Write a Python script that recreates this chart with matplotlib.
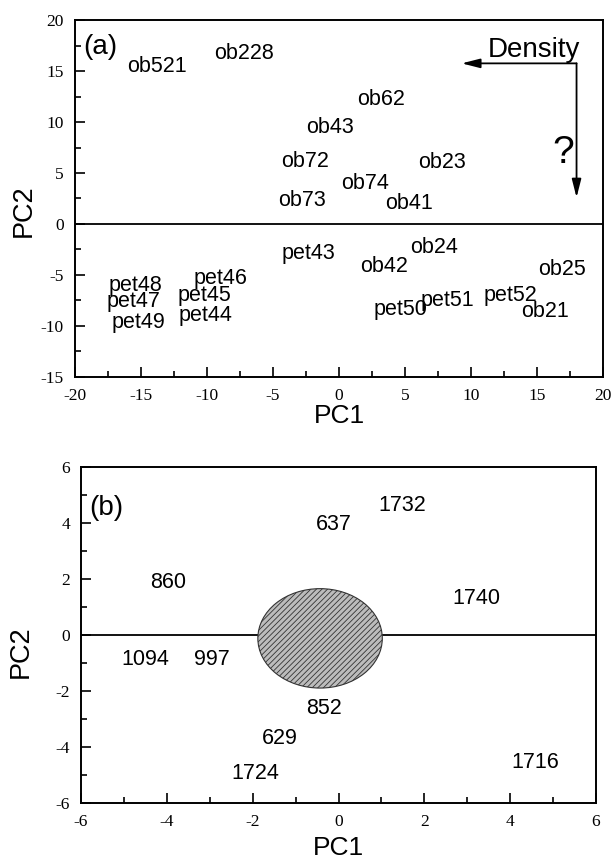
import matplotlib
matplotlib.use("Agg")
import matplotlib.pyplot as plt
from matplotlib.patches import Ellipse
from matplotlib.ticker import MultipleLocator

# ---- panel (a): sample scores on PC1 / PC2 ----
a_names = ["ob521", "ob228", "ob62", "ob43", "ob72", "ob23", "ob74", "ob73",
           "ob41", "pet43", "ob24", "ob42", "ob25", "pet48", "pet46", "pet47",
           "pet45", "pet49", "pet44", "pet50", "pet51", "pet52", "ob21"]
a_pc1 = [-13.8, -7.2, 3.2, -0.7, -2.6, 7.8, 2.0, -2.8,
         5.3, -2.3, 7.2, 3.4, 16.9, -15.4, -9.0, -15.6,
         -10.2, -15.2, -10.1, 4.7, 8.2, 13.0, 15.6]
a_pc2 = [15.4, 16.7, 12.2, 9.5, 6.1, 6.0, 4.0, 2.3,
         2.0, -2.9, -2.3, -4.2, -4.5, -6.0, -5.3, -7.6,
         -7.0, -9.7, -9.0, -8.4, -7.5, -7.0, -8.6]

# ---- panel (b): variable loadings on PC1 / PC2 ----
b_names = ["1732", "637", "860", "1740", "1094", "997", "852", "629", "1724", "1716"]
b_pc1 = [1.48, -0.10, -3.97, 3.21, -4.51, -2.95, -0.34, -1.36, -1.94, 4.58]
b_pc2 = [4.64, 3.93, 1.89, 1.32, -0.89, -0.89, -2.61, -3.68, -4.93, -4.54]

SANS = "Liberation Sans"
SERIF = "Liberation Serif"

plt.rcParams["axes.unicode_minus"] = False
plt.rcParams["hatch.color"] = "#7a7a7a"
plt.rcParams["hatch.linewidth"] = 0.6

fig = plt.figure(figsize=(6.12, 8.67), dpi=100)
ax1 = fig.add_axes([0.1225, 0.5652, 0.8627, 0.4117])
ax2 = fig.add_axes([0.1324, 0.0738, 0.8415, 0.3876])


def style_axes(ax, xlim, ylim, xmaj, ymaj, xpad):
    ax.set_xlim(*xlim)
    ax.set_ylim(*ylim)
    ax.xaxis.set_major_locator(MultipleLocator(xmaj))
    ax.xaxis.set_minor_locator(MultipleLocator(xmaj / 2))
    ax.yaxis.set_major_locator(MultipleLocator(ymaj))
    ax.yaxis.set_minor_locator(MultipleLocator(ymaj / 2))
    ax.tick_params(which="both", direction="in", top=False, right=False,
                   width=1.2, color="black")
    ax.tick_params(which="major", length=7, labelsize=12.5, pad=8)
    ax.tick_params(which="minor", length=4)
    for lab in ax.get_xticklabels() + ax.get_yticklabels():
        lab.set_fontfamily(SERIF)
    for sp in ax.spines.values():
        sp.set_linewidth(1.4)
    ax.axhline(0, color="black", lw=1.3, zorder=1)
    ax.set_xlabel("PC1", fontsize=19, family=SANS, labelpad=xpad)
    ax.set_ylabel("PC2", fontsize=19.5, family=SANS)


LABEL_SIZE = 15.5

style_axes(ax1, (-20, 20), (-15, 20), 5, 5, xpad=0)
ax1.yaxis.set_label_coords(-0.072, 0.465)
for name, x, y in zip(a_names, a_pc1, a_pc2):
    ax1.text(x, y, name, fontsize=LABEL_SIZE, family=SANS, ha="center", va="center")
ax1.text(-18.1, 17.4, "(a)", fontsize=20, family=SANS, ha="center", va="center")

# density direction arrows
ax1.text(14.8, 17.1, "Density", fontsize=20, family=SANS, ha="center", va="center")
arrow = dict(arrowstyle="-|>,head_length=1.1,head_width=0.28", color="black",
             lw=1.3, shrinkA=0, shrinkB=0)
ax1.annotate("", xy=(9.3, 15.75), xytext=(18.0, 15.75), arrowprops=arrow)
ax1.annotate("", xy=(18.0, 2.6), xytext=(18.0, 15.75), arrowprops=arrow)
ax1.text(17.0, 7.0, "?", fontsize=28, family=SANS, ha="center", va="center")

style_axes(ax2, (-6, 6), (-6, 6), 2, 2, xpad=4)
ax2.yaxis.set_label_coords(-0.092, 0.449)
for name, x, y in zip(b_names, b_pc1, b_pc2):
    ax2.text(x, y, name, fontsize=LABEL_SIZE, family=SANS, ha="center", va="center")
ax2.text(-5.42, 4.55, "(b)", fontsize=20, family=SANS, ha="center", va="center")

ax2.add_patch(Ellipse((-0.43, -0.12), 2.9, 3.55, facecolor="#bcbcbc",
                      edgecolor="#333333", lw=0.8, hatch="//////", zorder=3))

fig.savefig("out.png", dpi=100)
